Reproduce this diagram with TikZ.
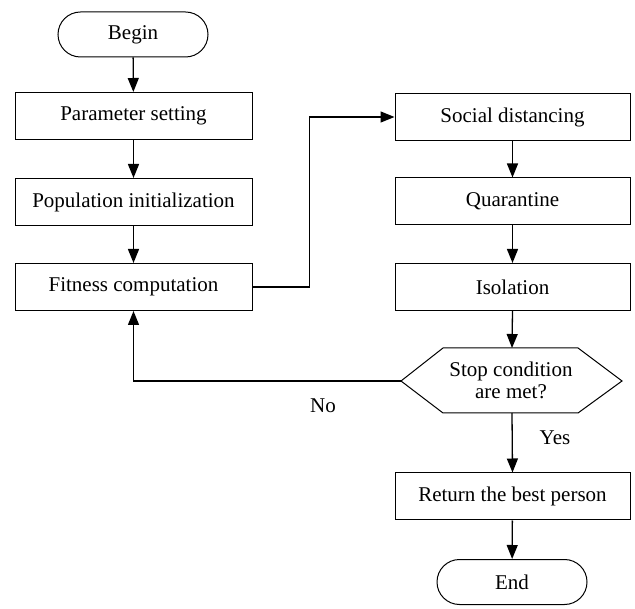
\documentclass[tikz,border=0pt]{standalone}
\usepackage{fontspec}
\setmainfont{Liberation Serif}
\usetikzlibrary{arrows.meta}
\tikzset{
  box/.style={draw, line width=1pt, minimum height=47pt, inner sep=2pt, font=\fontsize{21}{25}\selectfont},
  pill/.style={draw, line width=1pt, minimum width=150pt, minimum height=45pt, rounded corners=22.5pt, font=\fontsize{21}{25}\selectfont},
  lbl/.style={font=\fontsize{21}{25}\selectfont},
  arr/.style={line width=1.3pt, -{Triangle[width=11pt,length=14pt]}},
  ln/.style={line width=1.3pt}
}
\begin{document}
\begin{tikzpicture}[x=1pt,y=-1pt]
\useasboundingbox (0,0) rectangle (635,609);
% left column
\node[pill] (begin) at (133,34.5) {Begin};
\node[box, minimum width=237pt] (par) at (133.5,116) {Parameter setting};
\node[box, minimum width=237pt] (pop) at (133.5,202) {Population initialization};
\node[box, minimum width=237pt] (fit) at (133.5,287) {Fitness computation};
% right column
\node[box, minimum width=235pt] (soc) at (512.5,117) {Social distancing};
\node[box, minimum width=235pt] (qua) at (512.5,201.5) {Quarantine};
\node[box, minimum width=235pt] (iso) at (512.5,287) {Isolation};
% decision hexagon
\coordinate (decw) at (401,381);
\coordinate (dece) at (622,381);
\coordinate (decn) at (512,348);
\coordinate (decs) at (512,413);
\draw[line width=1pt] (decw) -- (443,348) -- (578,348) -- (dece) -- (578,413) -- (443,413) -- cycle;
\node[lbl, align=center] (dec) at (511,380) {Stop condition\\[-3pt]are met?};
\node[box, minimum width=235pt] (ret) at (512.5,496.5) {Return the best person};
\node[pill] (end) at (512,582) {End};
% labels
\node[lbl] (no) at (323,406) {No};
\node[lbl] (yes) at (555,438) {Yes};
% connectors
\draw[arr] (begin) -- (par);
\draw[arr] (par) -- (pop);
\draw[arr] (pop) -- (fit);
\draw[arr] (fit.east) -- ++(57,0) |- (soc.west);
\draw[arr] (soc) -- (qua);
\draw[arr] (qua) -- (iso);
\draw[arr] (iso.south) -- (decn);
\draw[arr] (decw) -| (fit.south);
\draw[arr] (decs) -- (ret.north);
\draw[arr] (ret) -- (end);
\end{tikzpicture}
\end{document}
